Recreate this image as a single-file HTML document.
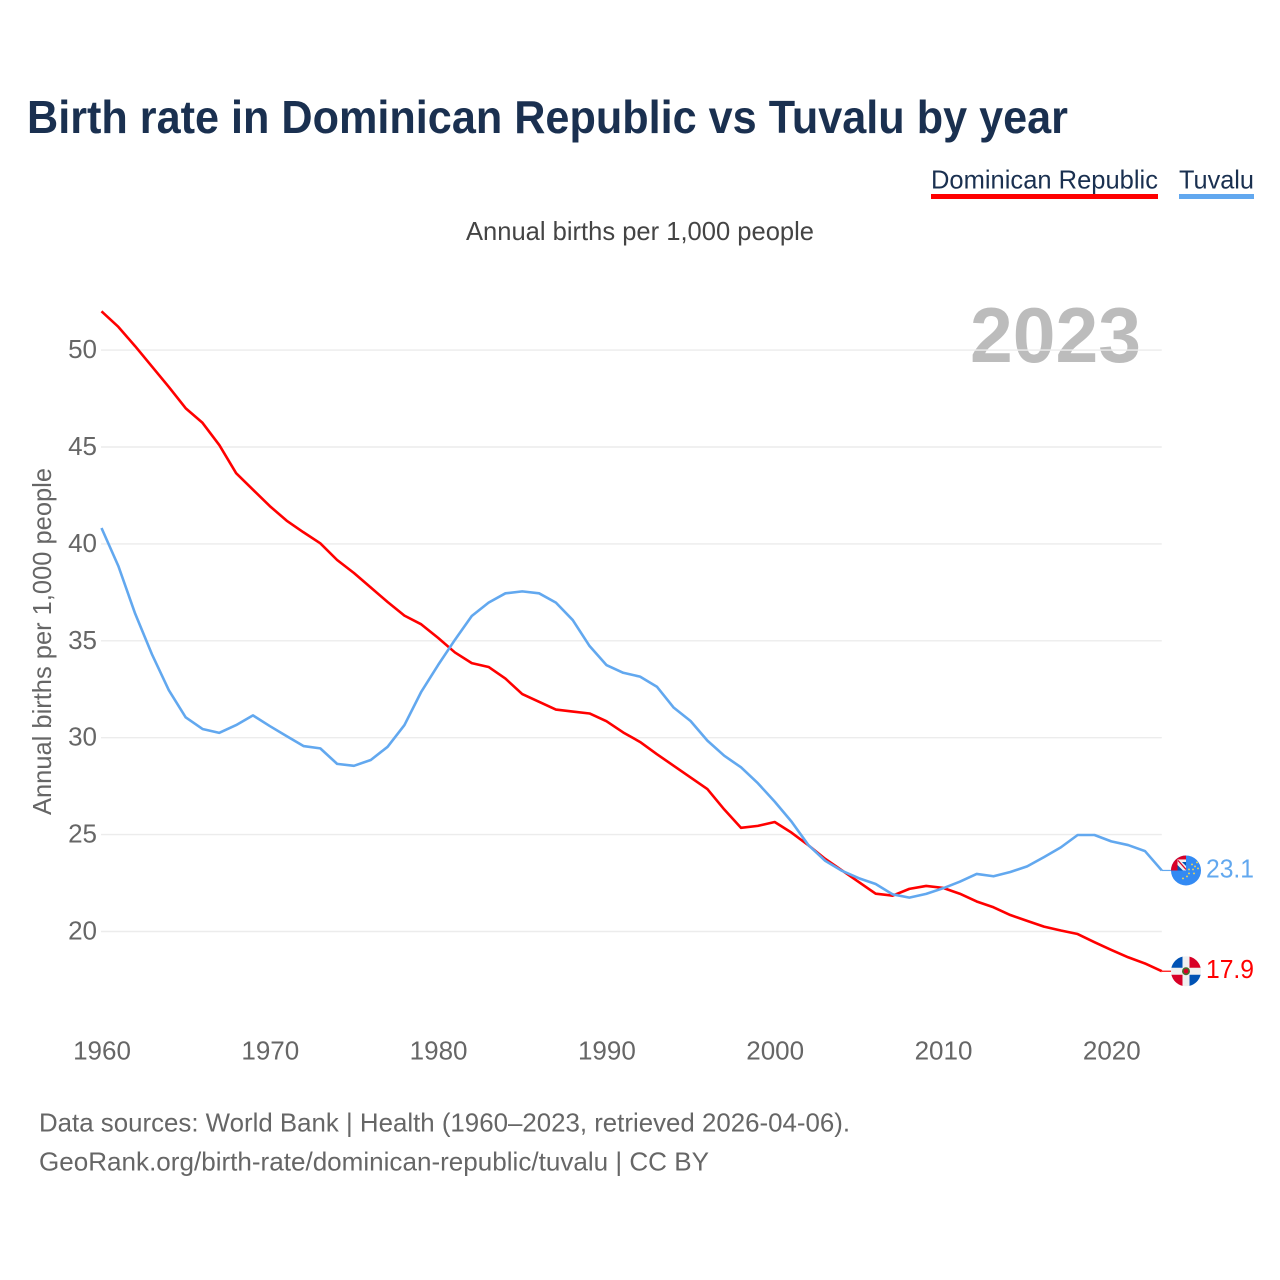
<!DOCTYPE html>
<html lang="en">
<head>
<meta charset="utf-8">
<title>Birth rate in Dominican Republic vs Tuvalu by year</title>
<style>
html,body{margin:0;padding:0;background:#fff;width:1280px;height:1280px;overflow:hidden}
svg{display:block;font-family:"Liberation Sans",sans-serif}
</style>
</head>
<body>
<svg id="chart" xmlns="http://www.w3.org/2000/svg" width="1280" height="1280" viewBox="0 0 1280 1280">
  <rect x="0" y="0" width="1280" height="1280" fill="#fff"/>
  <text x="27" y="133" font-size="46" font-weight="700" fill="#1a3050" textLength="1041" lengthAdjust="spacingAndGlyphs">Birth rate in Dominican Republic vs Tuvalu by year</text>
  <g>
    <text x="931" y="188.5" font-size="26" fill="#1a3050" textLength="227" lengthAdjust="spacingAndGlyphs">Dominican Republic</text>
    <rect x="931" y="194" width="227" height="5" fill="#ff0000"/>
  </g>
  <g>
    <text x="1179" y="188.5" font-size="26" fill="#1a3050" textLength="75" lengthAdjust="spacingAndGlyphs">Tuvalu</text>
    <rect x="1179" y="194" width="75" height="5" fill="#62a8ef"/>
  </g>
  <text x="466" y="240" font-size="26" fill="#444" textLength="348" lengthAdjust="spacingAndGlyphs">Annual births per 1,000 people</text>
  <text transform="translate(51,815) rotate(-90)" x="0" y="0" font-size="26" fill="#666" textLength="347" lengthAdjust="spacingAndGlyphs">Annual births per 1,000 people</text>
  <text x="970" y="362" font-size="78" font-weight="700" fill="#bcbcbc" textLength="171" lengthAdjust="spacingAndGlyphs">2023</text>
  <g id="grid"></g>
  <g id="yticks"></g>
  <g id="xticks"></g>
  <g id="series"></g>
  <g id="ends"></g>
  <text x="39" y="1131.5" font-size="26" fill="#666" textLength="811" lengthAdjust="spacingAndGlyphs">Data sources: World Bank | Health (1960–2023, retrieved 2026-04-06).</text>
  <text x="39" y="1170.5" font-size="26" fill="#666" textLength="670" lengthAdjust="spacingAndGlyphs">GeoRank.org/birth-rate/dominican-republic/tuvalu | CC BY</text>
</svg>
<script>
const firstYear = 1960;
const yTickValues = [20, 25, 30, 35, 40, 45, 50];
const xTickValues = [1960, 1970, 1980, 1990, 2000, 2010, 2020];
const dominicanRepublic = [52.0,51.2,50.2,49.15,48.1,47.0,46.25,45.1,43.65,42.8,41.95,41.2,40.6,40.03,39.17,38.5,37.75,37.0,36.3,35.85,35.15,34.4,33.85,33.65,33.05,32.25,31.85,31.45,31.35,31.25,30.85,30.27,29.78,29.15,28.55,27.95,27.35,26.3,25.35,25.45,25.65,25.1,24.45,23.75,23.15,22.55,21.95,21.85,22.2,22.35,22.25,21.95,21.55,21.25,20.85,20.55,20.25,20.05,19.87,19.45,19.05,18.67,18.35,17.95];
const tuvalu = [40.82,38.86,36.4,34.3,32.45,31.05,30.45,30.25,30.65,31.15,30.6,30.08,29.57,29.45,28.65,28.55,28.85,29.53,30.65,32.37,33.75,35.05,36.28,36.97,37.45,37.55,37.45,36.97,36.07,34.73,33.75,33.35,33.15,32.63,31.55,30.86,29.85,29.07,28.47,27.65,26.7,25.67,24.46,23.65,23.13,22.75,22.45,21.92,21.75,21.94,22.23,22.57,22.97,22.85,23.07,23.36,23.84,24.34,24.98,24.98,24.65,24.46,24.15,23.15];
const endLabels = ["17.9", "23.1"];

const NS = "http://www.w3.org/2000/svg";
const xScale = year => 101.5 + (year - 1960) * 16.83;
const yScale = value => 931.5 - (value - 20) * 19.38;
const plotRight = xScale(2023);

function make(tag, parent, attrs) {
  const el = document.createElementNS(NS, tag);
  for (const k in attrs) el.setAttribute(k, attrs[k]);
  parent.appendChild(el);
  return el;
}

const grid = document.getElementById("grid");
const yticks = document.getElementById("yticks");
yTickValues.forEach(v => {
  const line = make("line", grid, {x1: 101, x2: plotRight, y1: yScale(v), y2: yScale(v), stroke: "#ececec", "stroke-width": 1.4});
  
  
  const t = make("text", yticks, {x: 97, y: yScale(v) + 8, "text-anchor": "end", "font-size": 26, fill: "#666"});
  
  
  t.textContent = v;
});

const xticks = document.getElementById("xticks");
xTickValues.forEach(y => {
  const t = make("text", xticks, {x: xScale(y) + 0.5, y: 1059.5, "text-anchor": "middle", "font-size": 26, fill: "#666"});
  
  
  t.textContent = y;
});

const seriesGroup = document.getElementById("series");
function drawSeries(values, color, name) {
  const pts = values.map((v, i) => xScale(firstYear + i).toFixed(2) + "," + yScale(v).toFixed(2)).join(" ");
  const p = make("polyline", seriesGroup, {points: pts, fill: "none", stroke: color, "stroke-width": 2.6, "stroke-linejoin": "round"});
  
  
}
drawSeries(dominicanRepublic, "#ff0000", "line-dominican-republic");
drawSeries(tuvalu, "#62a8ef", "line-tuvalu");

const ends = document.getElementById("ends");
const flagX = 1186;
const flagR = 15;
function connector(value, color, name) {
  const y = yScale(value);
  const c = make("line", ends, {x1: plotRight, x2: flagX - flagR + 4, y1: y, y2: y, stroke: color, "stroke-width": 1.2});
  
  
}
connector(dominicanRepublic[dominicanRepublic.length - 1], "#ff0000", "connector-dominican-republic");
connector(tuvalu[tuvalu.length - 1], "#62a8ef", "connector-tuvalu");

// Dominican Republic flag
(function () {
  const cy = yScale(dominicanRepublic[dominicanRepublic.length - 1]);
  const g = make("g", ends, {transform: "translate(" + flagX + "," + cy + ")"});
  
  
  make("circle", g, {r: flagR, fill: "#f0f0f0"});
  make("path", g, {d: "M-3.5,-14.6A15,15 0 0 0 -14.6,-3.5L-3.5,-3.5Z", fill: "#0052b4"});
  make("path", g, {d: "M3.5,-14.6A15,15 0 0 1 14.6,-3.5L3.5,-3.5Z", fill: "#d80027"});
  make("path", g, {d: "M-3.5,14.6A15,15 0 0 1 -14.6,3.5L-3.5,3.5Z", fill: "#d80027"});
  make("path", g, {d: "M3.5,14.6A15,15 0 0 0 14.6,3.5L3.5,3.5Z", fill: "#0052b4"});
  make("circle", g, {r: 4, fill: "#496e2d"});
  make("circle", g, {r: 2.3, fill: "#d80027"});
})();

// Tuvalu flag
(function () {
  const cy = yScale(tuvalu[tuvalu.length - 1]);
  const g = make("g", ends, {transform: "translate(" + flagX + "," + cy + ")"});
  
  
  make("circle", g, {r: flagR, fill: "#338af3"});
  make("path", g, {d: "M0,0L-15,0A15,15 0 0 1 0,-15Z", fill: "#d80027"});
  make("path", g, {d: "M-8.5,-11L0,-11L0,0L-8.5,0Z", fill: "#f0f0f0"});
  make("path", g, {d: "M-4,-8.5L0,-8.5L0,-4.5ZM-8.5,-5.5L-3,0L-8.5,0Z", fill: "#0052b4"});
  make("path", g, {d: "M-8,-10L0,-1", stroke: "#d80027", "stroke-width": 1.2, fill: "none"});
  [[11,-8],[6,-6],[9,-4],[3,-1],[7,-1],[12,-2],[-3,8],[3,3],[8,3],[1,6]].forEach(s => {
    make("circle", g, {cx: s[0], cy: s[1], r: 0.9, fill: "#ffda44"});
  });
})();

function endLabel(text, value, color, name, offset) {
  const t = make("text", ends, {x: 1206, y: yScale(value) + offset, "font-size": 26, fill: color, textLength: 48, lengthAdjust: "spacingAndGlyphs"});
  
  
  t.textContent = text;
}
endLabel(endLabels[0], dominicanRepublic[dominicanRepublic.length - 1], "#ff0000", "end-value-dominican-republic", 7);
endLabel(endLabels[1], tuvalu[tuvalu.length - 1], "#62a8ef", "end-value-tuvalu", 7);
</script>
</body>
</html>
